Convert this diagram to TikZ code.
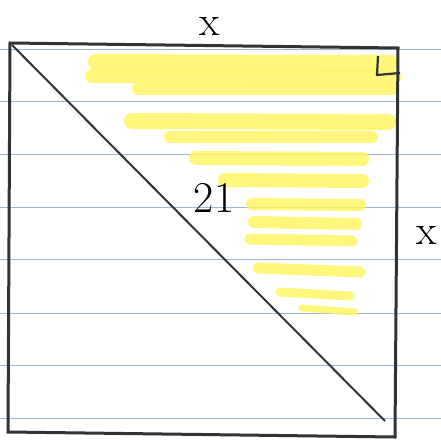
\documentclass[tikz,border=0pt]{standalone}
\usepackage{fontspec}
\usetikzlibrary{calc}
\definecolor{ruleblue}{RGB}{160,180,215}
\definecolor{hilite}{RGB}{255,244,90}

\begin{document}
\begin{tikzpicture}[x=1pt, y=-1pt,
    lbl/.style={anchor=base, inner sep=0pt, font=\fontsize{42}{44}\selectfont}]
    \useasboundingbox (0,0) rectangle (441,439);

    % Define the square corners
    \coordinate (TL) at (10, 43); \coordinate (TR) at (398, 48);
    \coordinate (BR) at (395, 437); \coordinate (BL) at (8, 432);
    \coordinate (D1) at (12, 45); \coordinate (D2) at (385, 421);

    % 1. Ruled paper lines (Light Blue)
    \foreach \y in {49, 101, 154, 207, 259, 313, 365, 418} {
        \draw[ruleblue, line width=1pt] (0,\y) -- (441,\y);
    }

    % 2. Highlighter strokes (Yellow)
    \begin{scope}[hilite, line cap=round, opacity=0.8]
        \draw[line width=16pt] (96,62) -- (390,63);
        \draw[line width=14pt] (92,76) -- (394,77);
        \draw[line width=12pt] (138,89) -- (392,89);
        \draw[line width=16pt] (132,121) -- (388,122);
        \draw[line width=12pt] (170,137) -- (372,137);
        \draw[line width=14pt] (196,158) -- (362,159);
        \draw[line width=14pt] (225,180) -- (362,181);
        \draw[line width=12pt] (252,204) -- (360,205);
        \draw[line width=12pt] (254,222) -- (356,224);
        \draw[line width=11pt] (250,239) -- (352,241);
        \draw[line width=11pt] (258,268) -- (360,272);
        \draw[line width=9pt] (280,292) -- (350,296);
        \draw[line width=7pt] (302,308) -- (355,312);
    \end{scope}

    % 3. Square outline (Thick dark gray)
    \draw[black!80, line width=3pt] (TL) -- (TR) -- (BR) -- (BL) -- cycle;

    % 4. Diagonal
    \draw[black!80, line width=2pt] (D1) -- (D2);

    % 5. Right angle mark
    \draw[black!80, line width=2.2pt] (378,56) -- (377,75) -- (400,73);

    % 6. Labels
    \node[lbl] (top) at (210,35) {x};
    \node[lbl] (side) at (427,244) {x};
    \node[lbl, font=\fontsize{44}{46}\selectfont] (area) at (214,212) {21};

\end{tikzpicture}
\end{document}
